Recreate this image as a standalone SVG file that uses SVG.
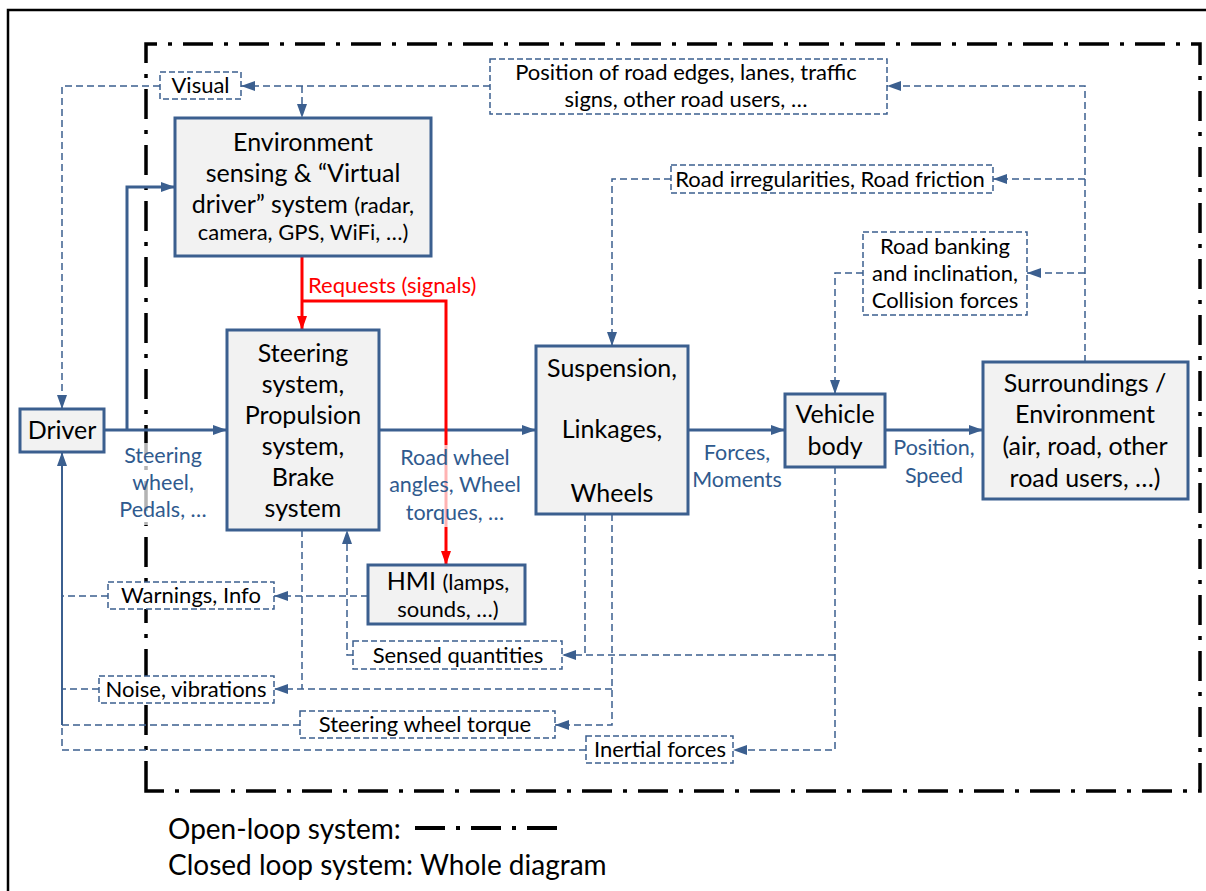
<svg xmlns="http://www.w3.org/2000/svg" width="1206" height="891" viewBox="0 0 1206 891">
<defs>
<style>
.box{fill:#f2f2f2;stroke:#3b5f8f;stroke-width:3}
.lbl{fill:#ffffff;stroke:#3b5f8f;stroke-width:1.5;stroke-dasharray:6 3}
.t{font-family:Lato,"Liberation Sans",sans-serif;font-size:25px;fill:#000;text-anchor:middle}
.s{font-size:22px}
.lt{font-family:Lato,"Liberation Sans",sans-serif;font-size:22px;fill:#000;text-anchor:middle}
.bt{font-family:Lato,"Liberation Sans",sans-serif;font-size:21.5px;fill:#2f5a8e;text-anchor:middle}
.sol{fill:none;stroke:#3b5f8f;stroke-width:3}
.dsh{fill:none;stroke:#3b5f8f;stroke-width:1.5;stroke-dasharray:7 4}
.red{fill:none;stroke:#ff0000;stroke-width:3}
.dd{fill:none;stroke:#000;stroke-width:3.5;stroke-dasharray:30 11 4 11}
.lg{font-family:Lato,"Liberation Sans",sans-serif;font-size:28px;fill:#000}
</style>
<marker id="ab" viewBox="0 0 14 10" refX="14" refY="5" markerWidth="14" markerHeight="10" orient="auto" markerUnits="userSpaceOnUse"><path d="M0,0 L14,5 L0,10 z" fill="#3b5f8f"/></marker>
<marker id="ar" viewBox="0 0 14 10" refX="14" refY="5" markerWidth="14" markerHeight="10" orient="auto" markerUnits="userSpaceOnUse"><path d="M0,0 L14,5 L0,10 z" fill="#ff0000"/></marker>
</defs>
<rect width="1206" height="891" fill="#ffffff"/>
<path d="M8,891 V10 H1206" fill="none" stroke="#000" stroke-width="2.5"/>
<g id="open-loop-frame">
<path class="dd" d="M146,791 V44 H1200 V791 Z"/>
</g>
<g id="connectors">
<path class="sol" d="M104,430 H227" marker-end="url(#ab)"/>
<path class="sol" d="M127,430 V187 H175" marker-end="url(#ab)"/>
<path class="sol" d="M379,430 H536" marker-end="url(#ab)"/>
<path class="sol" d="M688,430 H785" marker-end="url(#ab)"/>
<path class="sol" d="M885,430 H983" marker-end="url(#ab)"/>
<path class="sol" style="stroke-width:2" d="M62,725 V452" marker-end="url(#ab)"/>
<path class="red" d="M302,256 V330" marker-end="url(#ar)"/>
<path class="red" d="M302,301 H446 V565" marker-end="url(#ar)"/>
<path class="dsh" d="M160,86 H62 V409" marker-end="url(#ab)"/>
<path class="dsh" d="M490,86 H241" marker-end="url(#ab)"/>
<path class="dsh" d="M302,86 V118" marker-end="url(#ab)"/>
<path class="dsh" d="M1085,362 V86 H887" marker-end="url(#ab)"/>
<path class="dsh" d="M1085,179 H993" marker-end="url(#ab)"/>
<path class="dsh" d="M1085,273 H1027" marker-end="url(#ab)"/>
<path class="dsh" d="M671,179 H612 V346" marker-end="url(#ab)"/>
<path class="dsh" d="M863,273 H835 V394" marker-end="url(#ab)"/>
<path class="dsh" d="M368,596 H274" marker-end="url(#ab)"/>
<path class="dsh" d="M108,596 H62"/>
<path class="dsh" d="M302,530 V689"/>
<path class="dsh" d="M612,514 V725 H555" marker-end="url(#ab)"/>
<path class="dsh" d="M612,689 H274" marker-end="url(#ab)"/>
<path class="dsh" d="M99,689 H62"/>
<path class="dsh" d="M585,514 V655"/>
<path class="dsh" d="M835,467 V750 H733" marker-end="url(#ab)"/>
<path class="dsh" d="M835,655 H562" marker-end="url(#ab)"/>
<path class="dsh" d="M353,655 H347 V530" marker-end="url(#ab)"/>
<path class="dsh" d="M300,725 H62"/>
<path class="dsh" d="M586,750 H62 V725"/>
</g>
<g id="edge-labels">
<rect x="118" y="443" width="90" height="82" fill="#ffffff" opacity="0.7"/>
<text class="bt" x="163" y="463">Steering</text>
<text class="bt" x="163" y="490">wheel,</text>
<text class="bt" x="163" y="517">Pedals, …</text>
<rect x="395" y="445" width="120" height="82" fill="#ffffff" opacity="0.7"/>
<text class="bt" x="455" y="465">Road wheel</text>
<text class="bt" x="455" y="492">angles, Wheel</text>
<text class="bt" x="455" y="520">torques, …</text>
<text class="bt" x="737" y="460">Forces,</text>
<text class="bt" x="737" y="487">Moments</text>
<text class="bt" x="934" y="455">Position,</text>
<text class="bt" x="934" y="483">Speed</text>
<text class="lt" x="308" y="293" style="fill:#ff0000;text-anchor:start">Requests (signals)</text>
</g>
<g id="driver">
<rect class="box" x="20" y="409" width="84" height="43"/>
<text class="t" x="62" y="439">Driver</text>
</g>
<g id="env-sensing">
<rect class="box" x="175" y="118" width="256" height="138"/>
<text class="t" x="303" y="151">Environment</text>
<text class="t" x="303" y="182">sensing &amp; “Virtual</text>
<text class="t" x="303" y="213">driver” system <tspan class="s">(radar,</tspan></text>
<text class="t s" x="303" y="240">camera, GPS, WiFi, …)</text>
</g>
<g id="steering">
<rect class="box" x="227" y="330" width="152" height="200"/>
<text class="t" x="303" y="362">Steering</text>
<text class="t" x="303" y="393">system,</text>
<text class="t" x="303" y="424">Propulsion</text>
<text class="t" x="303" y="455">system,</text>
<text class="t" x="303" y="486">Brake</text>
<text class="t" x="303" y="517">system</text>
</g>
<g id="suspension">
<rect class="box" x="536" y="346" width="152" height="168"/>
<text class="t" x="612" y="377">Suspension,</text>
<text class="t" x="612" y="438">Linkages,</text>
<text class="t" x="612" y="502">Wheels</text>
</g>
<g id="vehicle-body">
<rect class="box" x="785" y="394" width="100" height="73"/>
<text class="t" x="835" y="423">Vehicle</text>
<text class="t" x="835" y="455">body</text>
</g>
<g id="surroundings">
<rect class="box" x="983" y="362" width="205" height="137"/>
<text class="t" x="1085" y="392">Surroundings /</text>
<text class="t" x="1085" y="423">Environment</text>
<text class="t" x="1085" y="455">(air, road, other</text>
<text class="t" x="1085" y="487">road users, …)</text>
</g>
<g id="hmi">
<rect class="box" x="368" y="565" width="157" height="59"/>
<text class="t" x="448" y="590">HMI <tspan class="s">(lamps,</tspan></text>
<text class="t s" x="448" y="617">sounds, …)</text>
</g>
<g id="visual">
<rect class="lbl" x="160" y="72" width="81" height="27"/>
<text class="lt" x="200.5" y="93">Visual</text>
</g>
<g id="position-road">
<rect class="lbl" x="490" y="59" width="397" height="55"/>
<text class="lt" x="686" y="80">Position of road edges, lanes, traffic</text>
<text class="lt" x="686" y="107">signs, other road users, …</text>
</g>
<g id="road-irregularities">
<rect class="lbl" x="671" y="165" width="322" height="28"/>
<text class="lt" x="830" y="187">Road irregularities, Road friction</text>
</g>
<g id="road-banking">
<rect class="lbl" x="863" y="232" width="164" height="83"/>
<text class="lt" x="945" y="254">Road banking</text>
<text class="lt" x="945" y="281">and inclination,</text>
<text class="lt" x="945" y="308">Collision forces</text>
</g>
<g id="warnings">
<rect class="lbl" x="108" y="582" width="166" height="27"/>
<text class="lt" x="191" y="603">Warnings, Info</text>
</g>
<g id="sensed">
<rect class="lbl" x="353" y="641" width="209" height="28"/>
<text class="lt" x="458" y="663">Sensed quantities</text>
</g>
<g id="noise">
<rect class="lbl" x="99" y="676" width="175" height="27"/>
<text class="lt" x="186" y="697">Noise, vibrations</text>
</g>
<g id="sw-torque">
<rect class="lbl" x="300" y="711" width="255" height="27"/>
<text class="lt" x="425" y="732">Steering wheel torque</text>
</g>
<g id="inertial">
<rect class="lbl" x="586" y="736" width="147" height="27"/>
<text class="lt" x="660" y="757">Inertial forces</text>
</g>
<g id="legend">
<text class="lg" x="168" y="839">Open-loop system:</text>
<path class="dd" style="stroke-width:4" d="M415,828 H557"/>
<text class="lg" x="168" y="875">Closed loop system: Whole diagram</text>
</g>
</svg>
